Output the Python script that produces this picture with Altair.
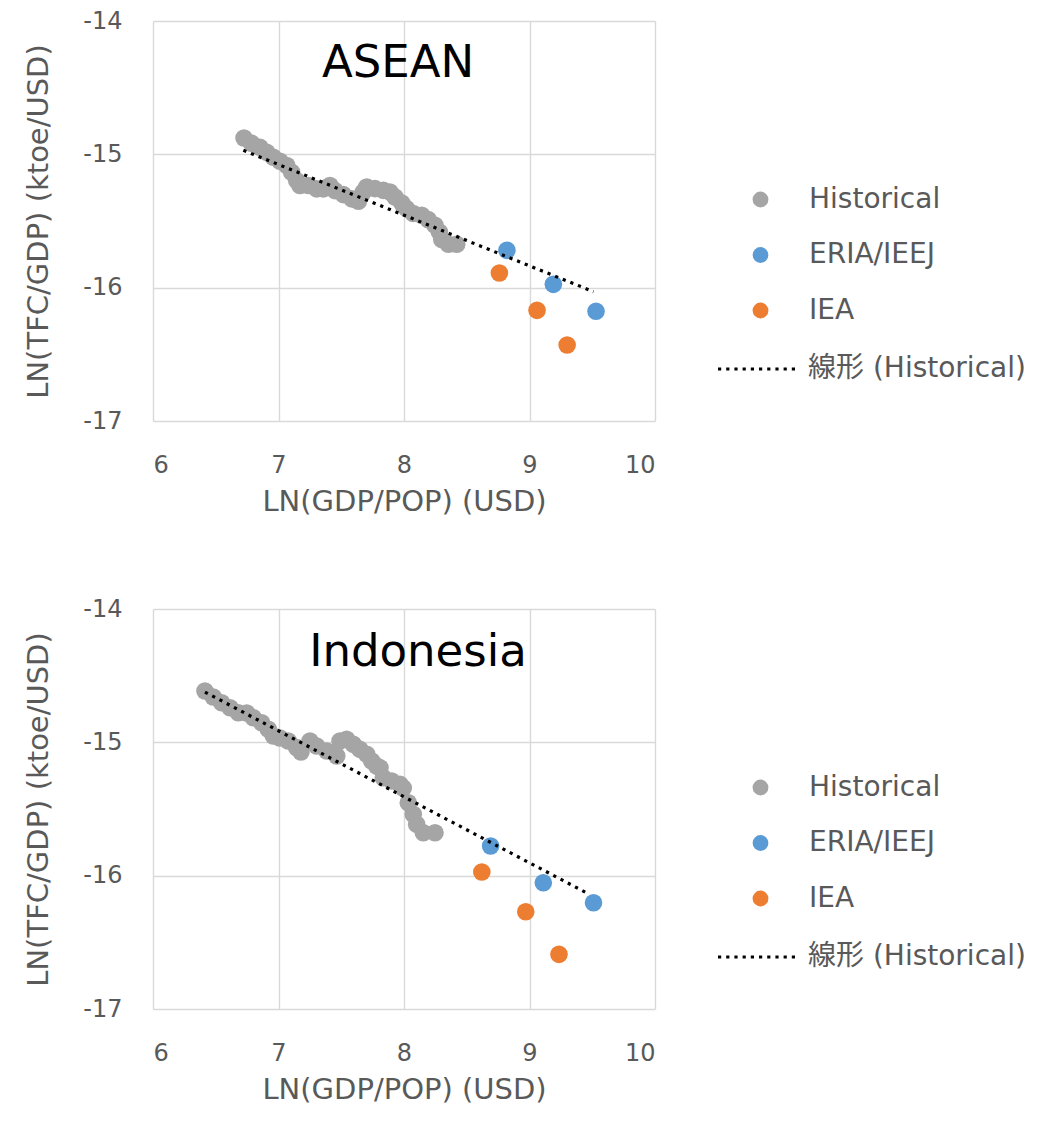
import altair as alt
import pandas as pd

FONT = "DejaVu Sans, Noto Sans CJK JP, sans-serif"

# ---------------- data ----------------
series_names = ["Historical", "ERIA/IEEJ", "IEA"]
trend_name = "線形 (Historical)"
series_colors = ["#A5A5A5", "#5B9BD5", "#ED7D31"]
x_ticks = [6, 7, 8, 9, 10]
y_ticks = [-17, -16, -15, -14]

asean_hist_x = [6.725, 6.786, 6.853, 6.906, 6.959, 7.012, 7.066, 7.105, 7.145, 7.171,
                7.238, 7.304, 7.357, 7.41, 7.45, 7.517, 7.584, 7.637, 7.676, 7.703,
                7.769, 7.835, 7.888, 7.928, 7.982, 8.021, 8.074, 8.141, 8.194, 8.247,
                8.282, 8.301, 8.354, 8.42]
asean_hist_y = [-14.877, -14.918, -14.948, -14.985, -15.022, -15.052, -15.084, -15.134, -15.197, -15.234,
                -15.234, -15.259, -15.259, -15.234, -15.272, -15.302, -15.334, -15.352, -15.283, -15.245,
                -15.257, -15.27, -15.282, -15.32, -15.365, -15.407, -15.444, -15.457, -15.49, -15.532,
                -15.582, -15.639, -15.674, -15.674]
asean_eria_x = [8.82, 9.19, 9.53]
asean_eria_y = [-15.72, -15.975, -16.177]
asean_iea_x = [8.76, 9.06, 9.30]
asean_iea_y = [-15.89, -16.17, -16.43]
asean_trend_x = [6.72, 9.51]
asean_trend_y = [-14.97, -16.03]

indo_hist_x = [6.414, 6.48, 6.547, 6.614, 6.68, 6.747, 6.799, 6.866, 6.919, 6.959,
               7.012, 7.078, 7.145, 7.179, 7.251, 7.304, 7.384, 7.464, 7.49, 7.543,
               7.596, 7.649, 7.703, 7.743, 7.782, 7.809, 7.835, 7.902, 7.968, 7.994,
               8.034, 8.074, 8.101, 8.154, 8.247]
indo_hist_y = [-14.615, -14.66, -14.703, -14.741, -14.778, -14.78, -14.815, -14.853, -14.902, -14.953,
               -14.968, -14.99, -15.04, -15.073, -14.99, -15.028, -15.065, -15.103, -14.99, -14.977,
               -15.015, -15.053, -15.09, -15.14, -15.178, -15.191, -15.266, -15.29, -15.315, -15.343,
               -15.453, -15.54, -15.615, -15.678, -15.678]
indo_eria_x = [8.69, 9.11, 9.51]
indo_eria_y = [-15.778, -16.053, -16.203]
indo_iea_x = [8.62, 8.97, 9.235]
indo_iea_y = [-15.973, -16.271, -16.59]
indo_trend_x = [6.414, 9.469]
indo_trend_y = [-14.623, -16.136]

TEXT_GRAY = "#595959"
LABEL_EXPR = "'' + datum.value"


def panel(name, hx, hy, ex, ey, ix, iy, tx, ty, label_px):
    pts = pd.concat([
        pd.DataFrame({"x": hx, "y": hy, "series": series_names[0]}),
        pd.DataFrame({"x": ex, "y": ey, "series": series_names[1]}),
        pd.DataFrame({"x": ix, "y": iy, "series": series_names[2]}),
    ], ignore_index=True)
    trend = pd.DataFrame({"x": tx, "y": ty, "series": trend_name})
    title_df = pd.DataFrame({"label": [name]})

    xenc = alt.X("x:Q",
                 scale=alt.Scale(domain=[6, 10], nice=False, zero=False),
                 axis=alt.Axis(values=x_ticks, title="LN(GDP/POP) (USD)",
                               labelExpr=LABEL_EXPR,
                               labelPadding=32, titlePadding=10))
    yenc = alt.Y("y:Q",
                 scale=alt.Scale(domain=[-17, -14], nice=False, zero=False),
                 axis=alt.Axis(values=y_ticks, title="LN(TFC/GDP) (ktoe/USD)",
                               labelExpr=LABEL_EXPR,
                               labelPadding=31, titlePadding=29))

    points = alt.Chart(pts).mark_circle(size=310, opacity=1).encode(
        x=xenc, y=yenc,
        color=alt.Color("series:N",
                        scale=alt.Scale(domain=series_names, range=series_colors),
                        legend=alt.Legend(title=None, orient="none",
                                          legendX=593.5, legendY=164.5,
                                          symbolType="circle", symbolSize=250,
                                          labelOffset=34.5, rowPadding=27.5,
                                          labelFontSize=28, labelColor=TEXT_GRAY,
                                          labelFont=FONT, labelLimit=0, padding=0)),
    )
    line = alt.Chart(trend).mark_line(color="black", strokeWidth=3.2).encode(
        x="x:Q", y="y:Q",
        strokeDash=alt.StrokeDash("series:N",
                                  scale=alt.Scale(domain=[trend_name], range=[[3.2, 5]]),
                                  legend=alt.Legend(title=None, orient="none",
                                                    legendX=563.5, legendY=307.5,
                                                    symbolType="stroke", symbolSize=6084,
                                                    symbolStrokeWidth=3, symbolStrokeColor="black",
                                                    labelOffset=10.5,
                                                    labelFontSize=28, labelColor=TEXT_GRAY,
                                                    labelFont=FONT, labelLimit=0, padding=0)),
    )
    title = alt.Chart(title_df).mark_text(fontSize=45, color="black", font=FONT,
                                          align="center", baseline="middle").encode(
        text="label:N", x=alt.value(label_px[0]), y=alt.value(label_px[1])
    )
    return alt.layer(points, line, title).properties(width=502, height=400)


p1 = panel("ASEAN", asean_hist_x, asean_hist_y, asean_eria_x, asean_eria_y,
           asean_iea_x, asean_iea_y, asean_trend_x, asean_trend_y, (245, 42))
p2 = panel("Indonesia", indo_hist_x, indo_hist_y, indo_eria_x, indo_eria_y,
           indo_iea_x, indo_iea_y, indo_trend_x, indo_trend_y, (265, 43))

chart = alt.vconcat(p1, p2, spacing=81).resolve_scale(
    color="independent", strokeDash="independent"
).resolve_legend(
    color="independent", strokeDash="independent"
).properties(
    padding={"left": 16, "top": 1, "right": 5, "bottom": 5}
).configure(font=FONT).configure_view(stroke=None).configure_axis(
    grid=True, gridColor="#D9D9D9", gridWidth=1.4, domain=False, ticks=False,
    labelFontSize=24, labelColor=TEXT_GRAY, labelFont=FONT,
    titleFontSize=29, titleColor=TEXT_GRAY, titleFont=FONT, titleFontWeight="normal"
)

chart.save("out.html", embed_options={"renderer": "svg", "actions": False})
